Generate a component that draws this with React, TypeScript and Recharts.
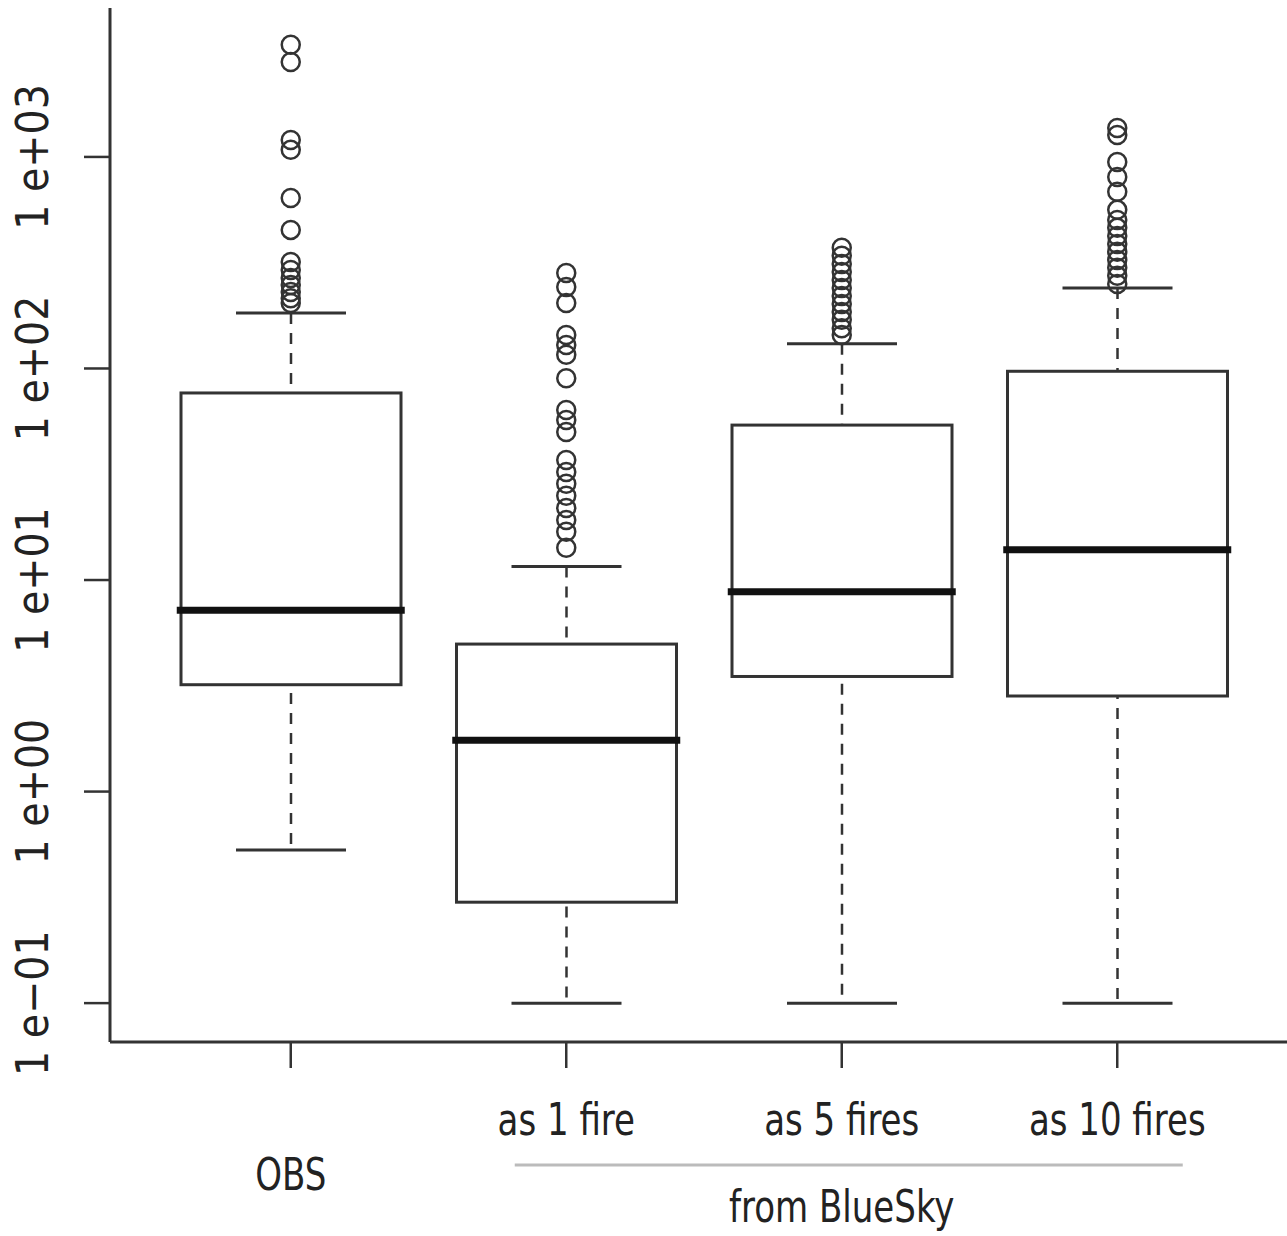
import { ComposedChart, Bar, Scatter, XAxis, YAxis } from 'recharts'

// box statistics per group
const groups = ['OBS', 'as 1 fire', 'as 5 fires', 'as 10 fires']
const labelLine = [2, 1, 1, 1]
const lowerWhisker = [0.53, 0.1, 0.1, 0.1]
const lowerQuartile = [3.2, 0.3, 3.5, 2.83]
const medians = [7.2, 1.75, 8.8, 13.9]
const upperQuartile = [76.6, 4.98, 54, 97]
const upperWhisker = [183, 11.6, 131, 240]

const obsOutliers = [3390, 2810, 1203, 1080, 640, 452, 319, 292, 268, 248, 230, 215, 204]
const oneFireOutliers = [283, 243, 204, 144, 129, 116, 90, 63.6, 57.1, 50.1, 36.9, 32.4, 28.5, 25, 21.9, 19.2, 16.9, 14.2]
const fiveFireOutliers = [372, 341, 312, 286, 262, 240, 220, 202, 185, 170, 155, 144]
const tenFireOutliers = [1371, 1270, 947, 804, 684, 562, 503, 462, 423, 388, 356, 326, 299, 274, 251]

const yTicks = [0.1, 1, 10, 100, 1000]
const groupTitle = 'from BlueSky'

const FONT = "'Liberation Sans Narrow', 'DejaVu Sans Condensed', 'Liberation Sans', sans-serif"
const INK = '#333'
const SQUEEZE = 0.86

const rows = groups.map((name, i) => ({
  name,
  whisk: [lowerWhisker[i], upperWhisker[i]],
  box: [lowerQuartile[i], upperQuartile[i]],
}))

const medianPoints = medians.map((v, i) => ({ x: i + 1, y: v }))
const outlierPoints = [obsOutliers, oneFireOutliers, fiveFireOutliers, tenFireOutliers].flatMap((list, i) =>
  list.map((v) => ({ x: i + 1, y: v }))
)

const fmtExp = (v: number) => {
  const e = Math.round(Math.log10(v))
  const sign = e < 0 ? '\u2212' : '+'
  return `1 e${sign}${String(Math.abs(e)).padStart(2, '0')}`
}

// eslint-disable-next-line @typescript-eslint/no-explicit-any
const YTick = ({ x, y, payload }: any) => {
  const bx = x - 34
  return (
    <text x={bx} y={y} transform={`rotate(-90, ${bx}, ${y})`} textAnchor="middle" fontSize={44} fill="#222" fontFamily={FONT}>
      {fmtExp(payload.value)}
    </text>
  )
}

const Label = ({ x, y, children }: { x: number; y: number; children: string }) => (
  <g transform={`translate(${x}, ${y}) scale(${SQUEEZE}, 1)`}>
    <text x={0} y={0} textAnchor="middle" fontSize={44} fill="#222" fontFamily={FONT}>
      {children}
    </text>
  </g>
)

// eslint-disable-next-line @typescript-eslint/no-explicit-any
const XTick = ({ x, y, payload, index }: any) => {
  const row = labelLine[index] ?? 1
  return (
    <g>
      <Label x={x} y={y + (row === 2 ? 120 : 65)}>{payload.value}</Label>
      {payload.value === 'as 5 fires' && (
        <g>
          <line x1={x - 327} x2={x + 341} y1={y + 95} y2={y + 95} stroke="#bbb" strokeWidth={3} />
          <Label x={x} y={y + 152}>{groupTitle}</Label>
        </g>
      )}
    </g>
  )
}

// eslint-disable-next-line @typescript-eslint/no-explicit-any
const WhiskerShape = ({ x, y, width, height }: any) => {
  const cx = x + width / 2
  return (
    <g>
      <line x1={cx} x2={cx} y1={y} y2={y + height} stroke={INK} strokeWidth={2.5} strokeDasharray="11 9" />
      <line x1={cx - width / 4} x2={cx + width / 4} y1={y} y2={y} stroke={INK} strokeWidth={3} />
      <line x1={cx - width / 4} x2={cx + width / 4} y1={y + height} y2={y + height} stroke={INK} strokeWidth={3} />
    </g>
  )
}

// eslint-disable-next-line @typescript-eslint/no-explicit-any
const BoxShape = ({ x, y, width, height }: any) => (
  <rect x={x} y={y} width={width} height={height} fill="#fff" stroke={INK} strokeWidth={3} />
)

// eslint-disable-next-line @typescript-eslint/no-explicit-any
const MedianShape = ({ cx, cy }: any) => (
  <line x1={cx - 114} x2={cx + 114} y1={cy} y2={cy} stroke="#111" strokeWidth={7} />
)

// eslint-disable-next-line @typescript-eslint/no-explicit-any
const OutlierShape = ({ cx, cy }: any) => (
  <circle cx={cx} cy={cy} r={9} fill="none" stroke={INK} strokeWidth={2.5} />
)

const PAD = { left: 43, right: 43 }

export default function App() {
  return (
    <div style={{ position: 'absolute', left: 0, top: 0, width: 1287, height: 1236, overflow: 'hidden', background: '#fff' }}>
      <ComposedChart
        width={1300}
        height={1236}
        data={rows}
        margin={{ top: 8, right: 2, bottom: 0, left: 0 }}
        style={{ fontFamily: FONT }}
      >
        <XAxis
          dataKey="name"
          height={194}
          padding={PAD}
          tickSize={26}
          interval={0}
          axisLine={{ stroke: INK, strokeWidth: 3 }}
          tickLine={{ stroke: INK, strokeWidth: 2.5 }}
          tick={<XTick />}
        />
        <XAxis xAxisId="top" dataKey="name" orientation="top" height={0} padding={PAD} tick={false} tickLine={false} axisLine={{ stroke: INK, strokeWidth: 3 }} />
        <XAxis xAxisId="box" dataKey="name" padding={PAD} hide />
        <XAxis xAxisId="pos" type="number" dataKey="x" domain={[0.5, 4.5]} padding={PAD} hide />
        <YAxis
          dataKey="y"
          width={110}
          scale="log"
          domain={[0.0655, 5058]}
          allowDataOverflow
          ticks={yTicks}
          interval={0}
          tickSize={26}
          axisLine={{ stroke: INK, strokeWidth: 3 }}
          tickLine={{ stroke: INK, strokeWidth: 2.5 }}
          tick={<YTick />}
        />
        <Bar dataKey="whisk" barSize={220} shape={<WhiskerShape />} isAnimationActive={false} />
        <Bar xAxisId="box" dataKey="box" barSize={220} shape={<BoxShape />} isAnimationActive={false} />
        <Scatter xAxisId="pos" data={medianPoints} shape={<MedianShape />} isAnimationActive={false} />
        <Scatter xAxisId="pos" data={outlierPoints} shape={<OutlierShape />} isAnimationActive={false} />
      </ComposedChart>
    </div>
  )
}
